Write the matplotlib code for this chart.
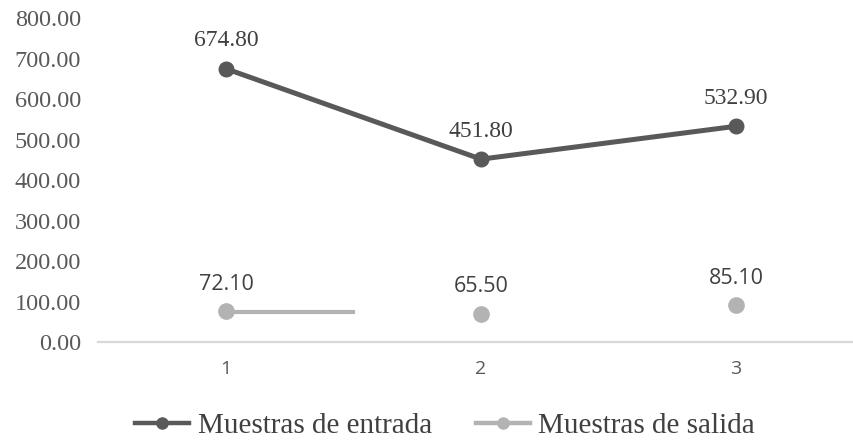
import matplotlib
matplotlib.use("Agg")
import matplotlib.pyplot as plt
from matplotlib.lines import Line2D

categories = [1, 2, 3]
entrada = [674.80, 451.80, 532.90]
salida_markers = [76.5, 71.0, 91.0]
salida_labels = [72.10, 65.50, 85.10]
salida_seg_x = [1, 1.5]
salida_seg_y = [75.5, 75.5]
yticks = [0, 100, 200, 300, 400, 500, 600, 700, 800]

c_in = "#595959"
c_out = "#b3b3b3"
serif = "Liberation Serif"
sans = "Open Sans"

fig = plt.figure(figsize=(8.54, 4.44), dpi=100)
ax = fig.add_axes([98.5 / 854, (444 - 342.3) / 444, 765 / 854, 324.3 / 444])

ax.plot(categories, entrada, color=c_in, lw=3.6, marker="o", ms=10.5, zorder=3)
ax.plot(salida_seg_x, salida_seg_y, color=c_out, lw=3.0, zorder=2)
ax.plot(categories, salida_markers, color=c_out, lw=0, marker="o", ms=11, zorder=3)

for x, v in zip(categories, entrada):
    ax.annotate(f"{v:.2f}", (x, v), xytext=(0, 12.6), textcoords="offset points",
                ha="center", va="bottom", fontsize=17, family=serif, color="#404040")
for x, yv, v in zip(categories, salida_markers, salida_labels):
    ax.annotate(f"{v:.2f}", (x, yv), xytext=(0, 12), textcoords="offset points",
                ha="center", va="bottom", fontsize=15.5, family=sans, color="#404040")

ax.set_xlim(0.5, 3.5)
ax.set_ylim(0, 800)
ax.set_yticks(yticks)
ax.set_yticklabels([f"{t:.2f}" for t in yticks], family=serif, fontsize=17.5, color="#595959")
ax.set_xticks(categories)
ax.set_xticklabels([str(c) for c in categories], family=sans, fontsize=14, color="#595959")
ax.tick_params(axis="both", length=0)
ax.tick_params(axis="y", pad=12.6)
ax.tick_params(axis="x", pad=13)
for s in ["top", "right", "left"]:
    ax.spines[s].set_visible(False)
ax.spines["bottom"].set_color("#d9d9d9")
ax.spines["bottom"].set_linewidth(1.6)

handles = [Line2D([], [], color=c_in, lw=3.2, marker="o", ms=8),
           Line2D([], [], color=c_out, lw=3.2, marker="o", ms=8)]
fig.legend(handles, ["Muestras de entrada", "Muestras de salida"], loc="center",
           bbox_to_anchor=(445 / 854, 1 - 426 / 444), ncol=2, frameon=False,
           prop={"family": serif, "size": 21}, handlelength=1.85, handletextpad=0.3,
           columnspacing=1.5, labelcolor="#404040", borderpad=0, borderaxespad=0)

fig.savefig("out.png", dpi=100)
